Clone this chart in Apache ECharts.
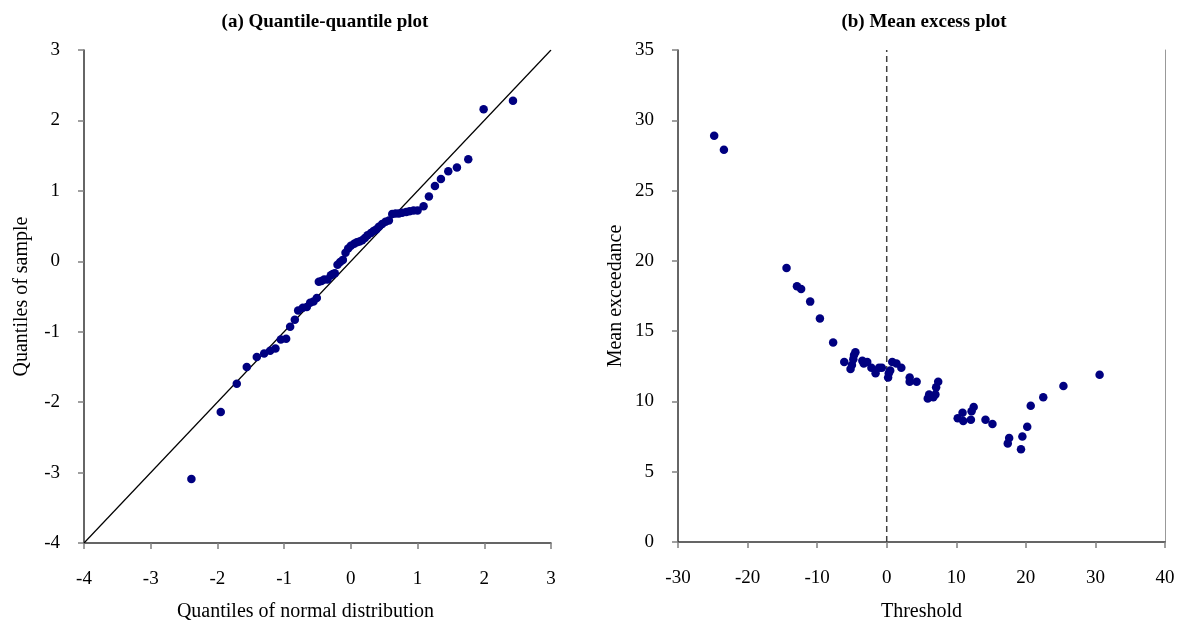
<!DOCTYPE html>
<html>
<head>
<meta charset="utf-8">
<script src="https://cdn.jsdelivr.net/npm/echarts@6/dist/echarts.min.js"></script>
<style>
html,body{margin:0;padding:0;background:#fff;}
#chart{width:1180px;height:627px;}
</style>
</head>
<body>
<div id="chart"></div>
<script>
// ---- Panel (a): quantile-quantile plot ----
var qqTheoretical = [-2.39,-1.95,-1.71,-1.56,-1.41,-1.30,-1.21,-1.13,-1.05,-0.97,-0.91,-0.84,-0.79,-0.72,-0.66,-0.61,-0.56,-0.51,-0.48,-0.44,-0.40,-0.35,-0.30,-0.27,-0.24,-0.20,-0.16,-0.12,-0.08,-0.04,0.00,0.05,0.09,0.13,0.17,0.21,0.25,0.30,0.34,0.38,0.42,0.47,0.52,0.57,0.62,0.67,0.72,0.77,0.83,0.88,0.94,1.00,1.09,1.17,1.26,1.35,1.46,1.59,1.76,1.99,2.43];
var qqSample = [-3.09,-2.14,-1.74,-1.50,-1.36,-1.31,-1.27,-1.24,-1.11,-1.10,-0.93,-0.83,-0.70,-0.66,-0.65,-0.59,-0.57,-0.52,-0.29,-0.28,-0.26,-0.26,-0.20,-0.18,-0.17,-0.05,-0.01,0.02,0.12,0.18,0.22,0.25,0.27,0.28,0.30,0.33,0.37,0.40,0.43,0.45,0.49,0.53,0.56,0.58,0.67,0.68,0.68,0.69,0.70,0.71,0.72,0.72,0.78,0.92,1.07,1.17,1.28,1.33,1.45,2.16,2.28];
var qqRefLine = [[-4,-4],[3,3]];
var qqTicksX = [-4,-3,-2,-1,0,1,2,3];
var qqTicksY = [-4,-3,-2,-1,0,1,2,3];

// ---- Panel (b): mean excess plot ----
var meThreshold = [-24.8,-23.4,-14.4,-12.9,-12.3,-11.0,-9.6,-7.7,-6.1,-5.2,-5.0,-4.8,-4.7,-4.5,-3.5,-3.3,-2.8,-2.2,-1.6,-1.1,-0.7,0.2,0.3,0.5,0.8,1.4,2.1,3.3,3.3,4.3,5.9,6.1,6.7,7.0,7.1,7.4,10.2,10.9,11.0,12.1,12.2,12.5,14.2,15.2,17.4,17.6,19.3,19.5,20.2,20.7,22.5,25.4,30.6];
var meExceedance = [28.9,27.9,19.5,18.2,18.0,17.1,15.9,14.2,12.8,12.3,12.6,13.0,13.3,13.5,12.9,12.7,12.8,12.4,12.0,12.4,12.4,11.7,12.0,12.2,12.8,12.7,12.4,11.7,11.4,11.4,10.2,10.5,10.3,10.5,11.0,11.4,8.8,9.2,8.6,8.7,9.3,9.6,8.7,8.4,7.0,7.4,6.6,7.5,8.2,9.7,10.3,11.1,11.9];
var meZeroLine = [[0,0],[0,35]];

var titles = ['(a) Quantile-quantile plot', '(b) Mean excess plot'];
var axisNames = {
  qqX: 'Quantiles of normal distribution',
  qqY: 'Quantiles of sample',
  meX: 'Threshold',
  meY: 'Mean exceedance'
};

var FONT = 'Liberation Serif';
var qqPoints = qqTheoretical.map(function (x, i) { return [x, qqSample[i]]; });
var mePoints = meThreshold.map(function (x, i) { return [x, meExceedance[i]]; });

function axisCommon(extra) {
  var base = {
    axisLine: { show: true, onZero: false, lineStyle: { color: '#333', width: 1.5 } },
    axisTick: { show: true, inside: false, length: 6, lineStyle: { color: '#808080', width: 1.5 } },
    axisLabel: { color: '#000', fontFamily: FONT, fontSize: 19, margin: 24 },
    splitLine: { show: false },
    nameTextStyle: { color: '#000', fontFamily: FONT, fontSize: 20 },
    nameLocation: 'middle'
  };
  for (var k in extra) base[k] = extra[k];
  return base;
}

var chart = echarts.init(document.getElementById('chart'), null, { renderer: 'canvas' });
chart.setOption({
  animation: false,
  backgroundColor: '#fff',
  title: [
    { text: titles[0], left: 320, top: 8, textAlign: 'center',
      textStyle: { fontFamily: FONT, fontWeight: 'bold', fontSize: 19, color: '#000' } },
    { text: titles[1], left: 919, top: 8, textAlign: 'center',
      textStyle: { fontFamily: FONT, fontWeight: 'bold', fontSize: 19, color: '#000' } }
  ],
  grid: [
    { left: 84, top: 50, width: 467, height: 497 },
    { left: 678, top: 50, width: 487, height: 492 }
  ],
  xAxis: [
    axisCommon({ gridIndex: 0, type: 'value', min: qqTicksX[0], max: qqTicksX[qqTicksX.length - 1], interval: 1,
      name: axisNames.qqX, nameGap: 59,
      axisLabel: { color: '#000', fontFamily: FONT, fontSize: 19, margin: 27 },
      nameTextStyle: { color: '#000', fontFamily: FONT, fontSize: 20, padding: [0, 24, 0, 0] } }),
    axisCommon({ gridIndex: 1, type: 'value', min: -30, max: 40, interval: 10,
      name: axisNames.meX, nameGap: 60,
      axisLabel: { color: '#000', fontFamily: FONT, fontSize: 19, margin: 27 } })
  ],
  yAxis: [
    axisCommon({ gridIndex: 0, type: 'value', min: qqTicksY[0], max: qqTicksY[qqTicksY.length - 1], interval: 1,
      name: axisNames.qqY, nameGap: 52 }),
    axisCommon({ gridIndex: 1, type: 'value', min: 0, max: 35, interval: 5,
      name: axisNames.meY, nameGap: 52 }),
    { gridIndex: 1, type: 'value', position: 'right', min: 0, max: 35, interval: 5,
      axisLine: { show: true, onZero: false, lineStyle: { color: '#999', width: 1 } },
      axisTick: { show: false }, axisLabel: { show: false }, splitLine: { show: false } }
  ],
  series: [
    { type: 'line', xAxisIndex: 0, yAxisIndex: 0, data: qqRefLine, symbol: 'none',
      lineStyle: { color: '#000', width: 1.2 }, z: 1 },
    { type: 'scatter', xAxisIndex: 0, yAxisIndex: 0, data: qqPoints, symbol: 'circle', symbolSize: 8.5,
      itemStyle: { color: '#000080', opacity: 1 }, z: 2 },
    { type: 'line', xAxisIndex: 1, yAxisIndex: 1, data: meZeroLine, symbol: 'none',
      lineStyle: { color: '#404040', width: 1.5, type: [6, 4] }, z: 1 },
    { type: 'scatter', xAxisIndex: 1, yAxisIndex: 1, data: mePoints, symbol: 'circle', symbolSize: 8.5,
      itemStyle: { color: '#000080', opacity: 1 }, z: 2 }
  ]
});
</script>
</body>
</html>
